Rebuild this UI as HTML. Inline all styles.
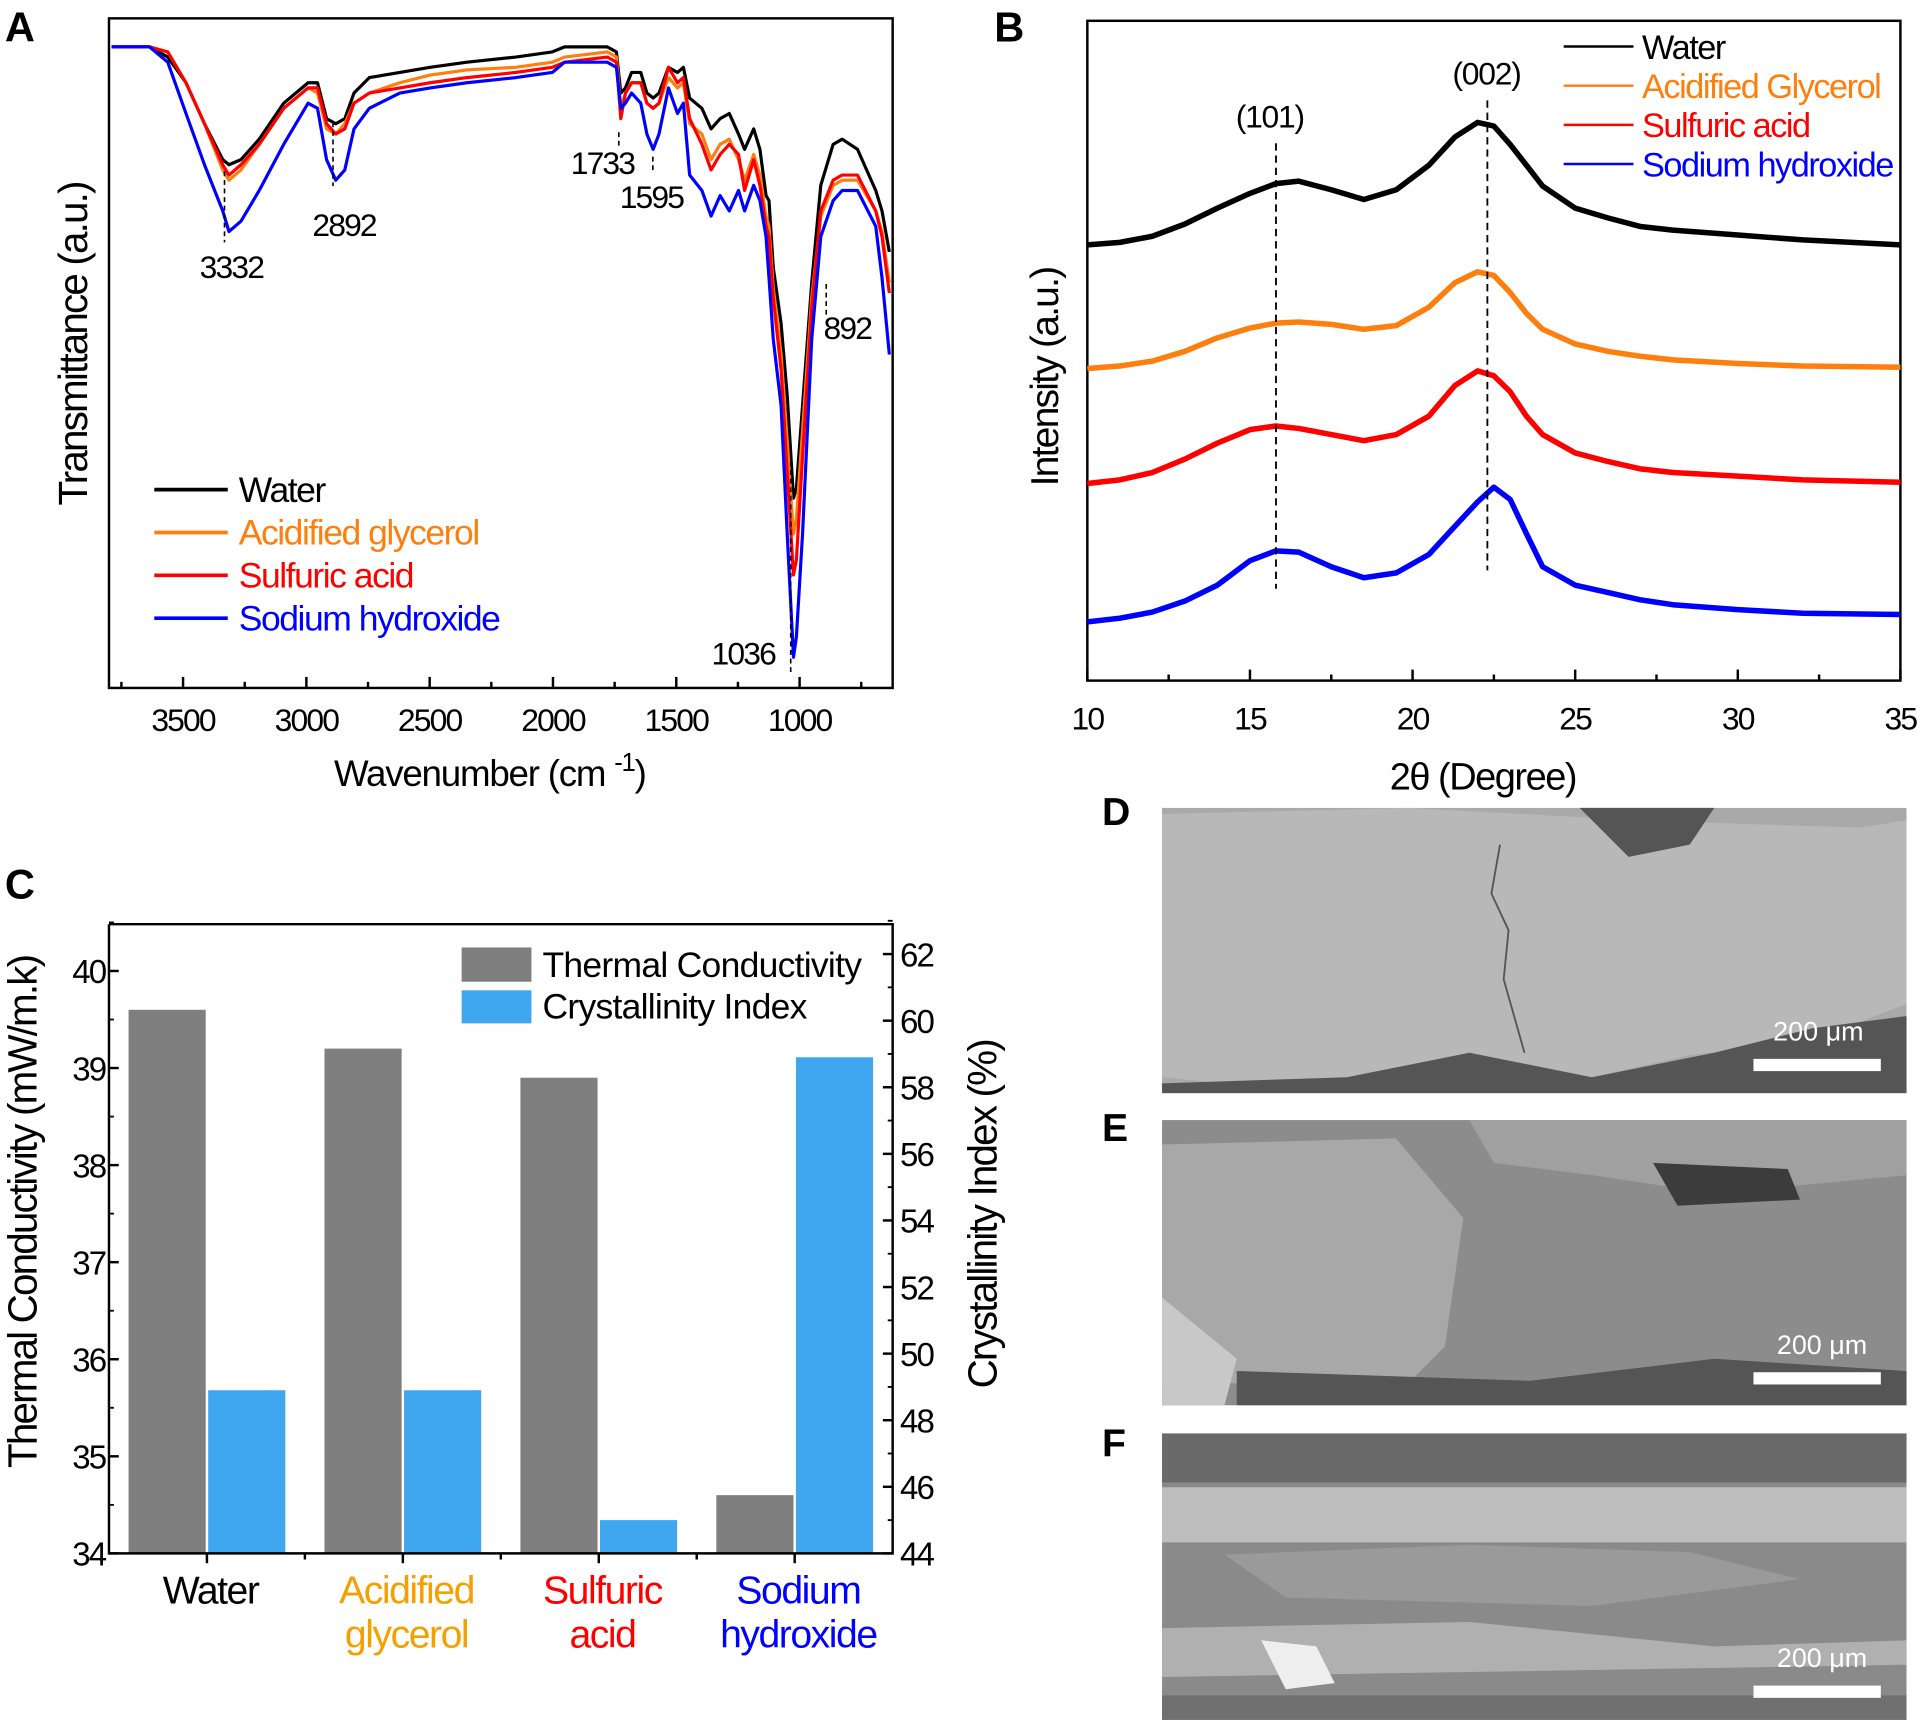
<!DOCTYPE html>
<html><head><meta charset="utf-8"><style>
html,body{margin:0;padding:0;background:#fff;}
svg{display:block;font-family:"Liberation Sans",Arial,sans-serif;}
</style></head><body>
<svg id="fig" xmlns="http://www.w3.org/2000/svg" width="1920" height="1726" viewBox="0 0 1568 1410" preserveAspectRatio="none">
<rect x="0" y="0" width="1568" height="1410" fill="#fff"/>
<g id="pa"></g>
<g id="pb"></g>
<g id="pc"></g>
<g id="pd">
 <text x="900" y="674" font-size="32" font-weight="bold">D</text>
 <text x="900" y="932" font-size="32" font-weight="bold">E</text>
 <text x="900" y="1190" font-size="32" font-weight="bold">F</text>
 <g>
  <rect x="949" y="660" width="608" height="233" fill="#a9a9a9"/>
  <polygon points="949,665 1150,660 1300,668 1330,690 1390,672 1520,676 1557,670 1557,820 1480,850 1380,862 1300,880 1200,870 1120,880 1000,885 949,880" fill="#b8b8b8"/>
  <polygon points="1290,660 1400,660 1380,690 1330,700" fill="#555"/>
  <polygon points="1100,880 1200,860 1300,880 1400,860 1480,840 1557,830 1557,893 949,893 949,885" fill="#555"/>
  <polyline points="1225,690 1218,730 1232,760 1228,800 1245,860" fill="none" stroke="#555" stroke-width="1.5"/>
  <rect x="1432" y="865" width="104" height="10" fill="#fff"/>
  <text x="1485" y="850" font-size="22" fill="#fff" text-anchor="middle">200 μm</text>
 </g>
 <g>
  <rect x="949" y="915" width="608" height="233" fill="#8c8c8c"/>
  <polygon points="949,935 1140,930 1195,995 1180,1100 1150,1130 949,1130" fill="#a8a8a8"/>
  <polygon points="949,1060 1010,1110 1000,1148 949,1148" fill="#c8c8c8"/>
  <polygon points="1200,915 1557,915 1557,960 1400,975 1300,960 1220,950" fill="#a0a0a0"/>
  <polygon points="1010,1120 1250,1128 1400,1110 1557,1120 1557,1148 1010,1148" fill="#555"/>
  <polygon points="1350,950 1460,955 1470,980 1370,985" fill="#3c3c3c"/>
  <rect x="1432" y="1121" width="104" height="10" fill="#fff"/>
  <text x="1488" y="1106" font-size="22" fill="#fff" text-anchor="middle">200 μm</text>
 </g>
 <g>
  <rect x="949" y="1171" width="608" height="234" fill="#8a8a8a"/>
  <rect x="949" y="1171" width="608" height="40" fill="#6a6a6a"/>
  <rect x="949" y="1215" width="608" height="45" fill="#bdbdbd"/>
  <polygon points="1000,1270 1200,1262 1380,1268 1470,1290 1300,1312 1050,1305" fill="#9a9a9a"/>
  <polygon points="949,1330 1200,1325 1400,1345 1557,1340 1557,1360 949,1370" fill="#b0b0b0"/>
  <polygon points="1030,1340 1075,1345 1090,1375 1050,1380" fill="#eee"/>
  <rect x="949" y="1385" width="608" height="20" fill="#707070"/>
  <rect x="1432" y="1377" width="104" height="10" fill="#fff"/>
  <text x="1488" y="1362" font-size="22" fill="#fff" text-anchor="middle">200 μm</text>
 </g>
</g>
</svg>
<script>
var NS='http://www.w3.org/2000/svg';
function mk(parent,tag,attrs,txt){var e=document.createElementNS(NS,tag);for(var k in attrs)e.setAttribute(k,attrs[k]);if(txt!==undefined)e.textContent=txt;parent.appendChild(e);return e;}

/* ===== Panel A: FTIR data ===== */
var ftirWavenumbers=[3790,3636,3562,3488,3413,3339,3314,3265,3191,3092,2993,2955,2918,2881,2844,2807,2745,2621,2498,2349,2151,2003,1953,1780,1743,1725,1706,1681,1644,1619,1594,1570,1532,1495,1471,1446,1396,1359,1322,1285,1248,1223,1186,1161,1136,1124,1107,1075,1050,1025,1013,988,951,914,864,827,765,691,666,636];
var ftirWater=[125,125,123,118,110,103,102,103,107,114,118,118,111,110,111,116,119,120,121,122,123,124,125,125,124,116,117,120,120,116,115,116,121,120,121,115,113,109,111,112,108,105,109,105,96,95,82,71,57,37,39,55,79,98,106,107,105,97,93,85];
var ftirGlycerol=[125,125,124,118,110,101,99,101,106,113,117,116,109,108,110,114,116,118,119.5,120.5,121,122,123,124,123,113,116,118,118,114,113,114,119,117,118,110,108,103,106,107,103,99,104,100,92,90,78,65,48,30,33,50,76,92,98,99,99,93,89,79];
var ftirSulfuric=[125,125,124,118,110,102,100,102,106,113,117,117,110,108,109,114,116,117,118,119,120,121,122,123,122,111,116,118,118,114,113,114,121,118,119,111,106,101,104,106,104,97,103,98,90,88,76,62,42,22,25,45,74,93,99,100,100,93,88,77];
var ftirNaOH=[125,125,122,112,102,93,89,91,97,106,114,113,103,99,101,109,113,116,117,118,119,120,122,122,121,113,114,116,114,108,105,108,117,112,114,100,97,92,96,93,97,93,98,95,88,80,68,55,30,6,10,30,68,88,95,97,97,90,80,65];
var ftirTicks=[3500,3000,2500,2000,1500,1000];
var ftirMinor=[3750,3250,2750,2250,1750,1250,750];
var ftirPeaks=[3332,2892,1733,1595,1036,892];

/* ===== Panel B: XRD data ===== */
var xrdAngles=[10,11,12,13,14,15,15.8,16.5,17.5,18.5,19.5,20.5,21.3,22,22.5,23,23.5,24,25,26,27,28,30,32,35];
var xrdWater=[0,2,7,17,30,42,50,52,45,37,45,65,88,100,97,82,65,48,30,22,15,12,8,4,0];
var xrdGlycerol=[0,2,6,14,25,33,37,38,36,32,35,50,70,79,76,62,45,32,20,14,10,7,4,2,1];
var xrdSulfuric=[0,3,9,20,33,44,47,45,40,35,40,55,80,92,88,75,55,40,25,18,12,9,6,3,1];
var xrdNaOH=[0,3,8,17,30,50,58,57,45,36,40,55,78,98,110,100,72,45,30,24,18,14,10,7,6];
var xrdOffsets=[356,255,161,48];
var xrdTicks=[10,15,20,25,30,35];

/* ===== Panel C: bar data ===== */
var barCategories=[["Water"],["Acidified","glycerol"],["Sulfuric","acid"],["Sodium","hydroxide"]];
var thermalConductivity=[39.6,39.2,38.9,34.6];
var crystallinityIndex=[48.9,48.9,45.0,58.9];
var leftTicks=[34,35,36,37,38,39,40];
var rightTicks=[44,46,48,50,52,54,56,58,60,62];

var colors=['#000000','#ff7f0e','#ff0000','#0000ff'];

/* ---------- Panel A ---------- */
(function(){
var g=document.getElementById('pa');
var L=89,R=729,T=15,B=562;
function xA(w){return 149.5+(3500-w)*0.2014;}
function yA(t){return B-t*4.19;}
var lb=mk(g,'text',{x:4,y:34,'font-size':34,'font-weight':'bold'},'A');


var fr=mk(g,'rect',{x:L,y:T,width:R-L,height:B-T,fill:'none',stroke:'#000','stroke-width':2});


ftirTicks.forEach(function(w){
 var t=mk(g,'line',{x1:xA(w),x2:xA(w),y1:B,y2:B-9,stroke:'#000','stroke-width':2});
 
 
 var tl=mk(g,'text',{x:xA(w),y:597,'font-size':26,'text-anchor':'middle','letter-spacing':'-1.5'},String(w));
 
 
});
ftirMinor.forEach(function(w){
 if(xA(w)>R)return;
 var t=mk(g,'line',{x1:xA(w),x2:xA(w),y1:B,y2:B-5,stroke:'#000','stroke-width':2});
 
 
});
var xt=mk(g,'text',{x:400,y:642,'font-size':30,'text-anchor':'middle','letter-spacing':'-1'},'Wavenumber (cm ');


var sup=mk(g,'tspan',{dy:-12,'font-size':21},'-1');
xt.appendChild(sup);
var cl=mk(xt,'tspan',{dy:12},')');
var yt=mk(g,'text',{x:0,y:0,'font-size':33,'text-anchor':'middle','letter-spacing':'-1.5',transform:'translate(71,281) rotate(-90)'},'Transmittance (a.u.)');


var series=[ftirWater,ftirGlycerol,ftirSulfuric,ftirNaOH];
var names=['ftir-water-line','ftir-acidified-glycerol-line','ftir-sulfuric-acid-line','ftir-sodium-hydroxide-line'];
series.forEach(function(s,i){
 var d=s.map(function(v,j){return (j?'L':'M')+xA(ftirWavenumbers[j]).toFixed(1)+','+yA(v).toFixed(1);}).join('');
 var p=mk(g,'path',{d:d,fill:'none',stroke:colors[i],'stroke-width':2.6,'stroke-linejoin':'round'});
 
 
});
var pk=[{y1:140,y2:198,lx:189,ly:227},{y1:100,y2:152,lx:281,ly:193},{y1:108,y2:120,lx:492,ly:142},{y1:128,y2:142,lx:532,ly:170},{y1:370,y2:552,lx:607,ly:543},{y1:232,y2:258,lx:692,ly:277}];
ftirPeaks.forEach(function(w,i){
 var q=pk[i];
 var dl=mk(g,'line',{x1:xA(w),x2:xA(w),y1:q.y1,y2:q.y2,stroke:'#000','stroke-width':1.3,'stroke-dasharray':'4,3'});
 
 
 var pl=mk(g,'text',{x:q.lx,y:q.ly,'font-size':26,'text-anchor':'middle','letter-spacing':'-1.5'},String(w));
 
 
});
var lgn=['Water','Acidified glycerol','Sulfuric acid','Sodium hydroxide'];
var lg=mk(g,'g',{});


lgn.forEach(function(n,i){
 var y=400+i*35;
 var ln=mk(lg,'line',{x1:126,x2:186,y1:y,y2:y,stroke:colors[i],'stroke-width':3});
 
 
 var tx=mk(lg,'text',{x:195,y:y+10,'font-size':29,fill:colors[i],'letter-spacing':'-1.2'},n);
 
 
});
})();

/* ---------- Panel B ---------- */
(function(){
var g=document.getElementById('pb');
var L=888,R=1552,T=17,B=556;
function xB(t){return L+(t-10)*(R-L)/25;}
function yB(v){return B-v;}
var lb=mk(g,'text',{x:812,y:34,'font-size':34,'font-weight':'bold'},'B');


var fr=mk(g,'rect',{x:L,y:T,width:R-L,height:B-T,fill:'none',stroke:'#000','stroke-width':2});


xrdTicks.forEach(function(t){
 var tk=mk(g,'line',{x1:xB(t),x2:xB(t),y1:B,y2:B-9,stroke:'#000','stroke-width':2});
 
 
 var tl=mk(g,'text',{x:xB(t),y:596,'font-size':26,'text-anchor':'middle','letter-spacing':'-1.5'},String(t));
 
 
 if(t<35){var m=mk(g,'line',{x1:xB(t+2.5),x2:xB(t+2.5),y1:B,y2:B-5,stroke:'#000','stroke-width':2});
 
 }
});
var xt=mk(g,'text',{x:1211,y:645,'font-size':31,'text-anchor':'middle','letter-spacing':'-1.2'},'2θ (Degree)');


var yt=mk(g,'text',{x:0,y:0,'font-size':32,'text-anchor':'middle','letter-spacing':'-1.5',transform:'translate(864,308) rotate(-90)'},'Intensity (a.u.)');


var series=[xrdWater,xrdGlycerol,xrdSulfuric,xrdNaOH];
var names=['xrd-water-line','xrd-acidified-glycerol-line','xrd-sulfuric-acid-line','xrd-sodium-hydroxide-line'];
series.forEach(function(s,i){
 var d=s.map(function(v,j){return (j?'L':'M')+xB(xrdAngles[j]).toFixed(1)+','+yB(v+xrdOffsets[i]).toFixed(1);}).join('');
 var p=mk(g,'path',{d:d,fill:'none',stroke:colors[i],'stroke-width':4.5,'stroke-linejoin':'round'});
 
 
});
var d1=mk(g,'line',{x1:xB(15.8),x2:xB(15.8),y1:117,y2:481,stroke:'#000','stroke-width':1.5,'stroke-dasharray':'6,4'});


var d2=mk(g,'line',{x1:xB(22.3),x2:xB(22.3),y1:82,y2:466,stroke:'#000','stroke-width':1.5,'stroke-dasharray':'6,4'});


var l1=mk(g,'text',{x:1037,y:104,'font-size':26,'text-anchor':'middle','letter-spacing':'-1'},'(101)');


var l2=mk(g,'text',{x:1214,y:69,'font-size':26,'text-anchor':'middle','letter-spacing':'-1'},'(002)');


var lgn=['Water','Acidified Glycerol','Sulfuric acid','Sodium hydroxide'];
lgn.forEach(function(n,i){
 var y=38+i*32;
 var ln=mk(g,'line',{x1:1277,x2:1334,y1:y,y2:y,stroke:colors[i],'stroke-width':2});
 
 
 var tx=mk(g,'text',{x:1341,y:y+10,'font-size':28,fill:colors[i],'letter-spacing':'-1.2'},n);
 
 
});
})();

/* ---------- Panel C ---------- */
(function(){
var g=document.getElementById('pc');
var L=89,R=729,T=755,B=1269;
function yL(v){return B-(v-34)*79.3;}
function yR(v){return B-(v-44)*27.2;}
function xc(i){return L+160*(i+0.5);}
var lb=mk(g,'text',{x:4,y:734,'font-size':34,'font-weight':'bold'},'C');


thermalConductivity.forEach(function(v,i){
 var r=mk(g,'rect',{x:xc(i)-64,y:yL(v),width:63,height:B-yL(v),fill:'#7f7f7f'});
 
 
});
crystallinityIndex.forEach(function(v,i){
 var r=mk(g,'rect',{x:xc(i)+1,y:yR(v),width:63,height:B-yR(v),fill:'#3fa7f0'});
 
 
});
var ax=mk(g,'path',{d:'M'+L+','+T+'L'+L+','+B+'L'+R+','+B+'L'+R+','+T+'L'+L+','+T,fill:'none',stroke:'#000','stroke-width':2});


leftTicks.forEach(function(v){
 var t=mk(g,'line',{x1:L,x2:L+8,y1:yL(v),y2:yL(v),stroke:'#000','stroke-width':2});
 
 
 var m=mk(g,'line',{x1:L,x2:L+4,y1:yL(v+0.5),y2:yL(v+0.5),stroke:'#000','stroke-width':1.5});
 
 
 var tl=mk(g,'text',{x:L-3,y:yL(v)+10,'font-size':27,'text-anchor':'end','letter-spacing':'-1.5'},String(v));
 
 
});
rightTicks.forEach(function(v){
 var t=mk(g,'line',{x1:R-8,x2:R,y1:yR(v),y2:yR(v),stroke:'#000','stroke-width':2});
 
 
 var m=mk(g,'line',{x1:R-4,x2:R,y1:yR(v+1),y2:yR(v+1),stroke:'#000','stroke-width':1.5});
 
 
 var tl=mk(g,'text',{x:R+6,y:yR(v)+10,'font-size':27,'letter-spacing':'-1.5'},String(v));
 
 
});
var catColors=['#000000','#f5a000','#ff0000','#0000ff'];
barCategories.forEach(function(c,i){
 var t=mk(g,'line',{x1:xc(i),x2:xc(i),y1:B,y2:B+8,stroke:'#000','stroke-width':2});
 
 
 if(i<3){var m=mk(g,'line',{x1:xc(i)+80,x2:xc(i)+80,y1:B,y2:B+5,stroke:'#000','stroke-width':2});
 
 }
 c.forEach(function(line,k){
  var tl=mk(g,'text',{x:xc(i)+3,y:1310+k*36,'font-size':32,'text-anchor':'middle',fill:catColors[i],'letter-spacing':'-1.2'},line);
  
  
 });
});
var yt=mk(g,'text',{x:0,y:0,'font-size':33,'text-anchor':'middle','letter-spacing':'-1.5',transform:'translate(30,990) rotate(-90)'},'Thermal Conductivity (mW/m.k)');


var yt2=mk(g,'text',{x:0,y:0,'font-size':33,'text-anchor':'middle','letter-spacing':'-1.5',transform:'translate(814,992) rotate(-90)'},'Crystallinity Index (%)');


var s1=mk(g,'rect',{x:377,y:774,width:57,height:28,fill:'#7f7f7f'});


var s2=mk(g,'rect',{x:377,y:809,width:57,height:27,fill:'#3fa7f0'});


var t1=mk(g,'text',{x:443,y:798,'font-size':29,'letter-spacing':'-0.6'},'Thermal Conductivity');


var t2=mk(g,'text',{x:443,y:832,'font-size':29,'letter-spacing':'-0.6'},'Crystallinity Index');


})();
</script>
</body></html>
